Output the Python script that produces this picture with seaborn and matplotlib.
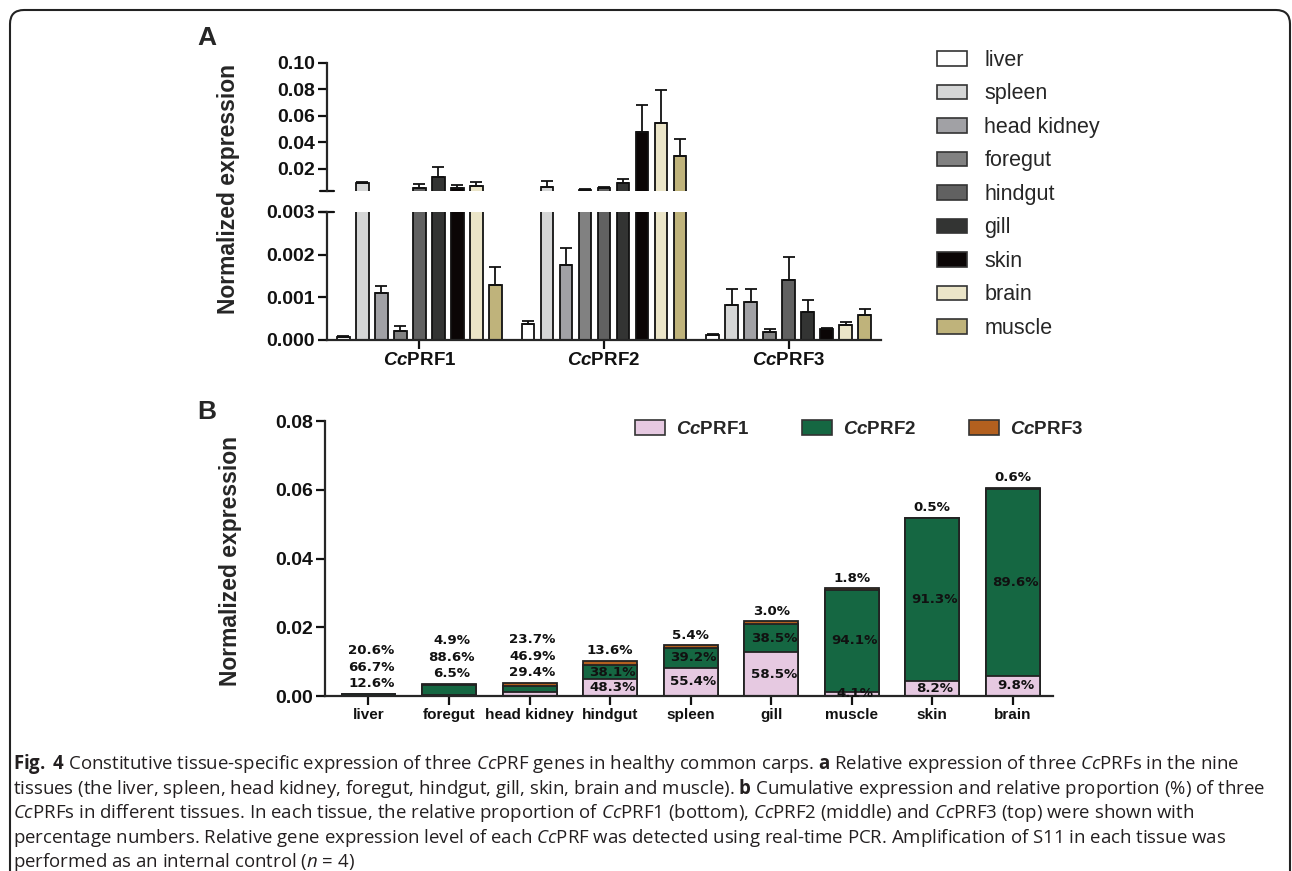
import numpy as np
import pandas as pd
import matplotlib
matplotlib.use("Agg")
import matplotlib.pyplot as plt
import matplotlib.patches as mpatches
from matplotlib.transforms import IdentityTransform
from matplotlib import font_manager as fm
import seaborn as sns

# ---------------- data ----------------
genes = ["CcPRF1", "CcPRF2", "CcPRF3"]
gene_labels = [r"$\mathsf{Cc}$PRF1", r"$\mathsf{Cc}$PRF2", r"$\mathsf{Cc}$PRF3"]
tissues_a = ["liver", "spleen", "head kidney", "foregut", "hindgut", "gill", "skin", "brain", "muscle"]
tissue_colors = ["#ffffff", "#d5d6d6", "#a1a1a5", "#818181", "#616161", "#333433", "#0b0606", "#ebe5c8", "#bfb37b"]

prf1_mean = [0.00007, 0.0090, 0.0011, 0.00022, 0.0049, 0.0135, 0.0053, 0.0066, 0.0013]
prf1_sem = [0.00002, 0.0010, 0.00016, 0.00011, 0.0034, 0.0075, 0.0025, 0.0035, 0.0004]
prf2_mean = [0.00038, 0.0064, 0.00175, 0.0036, 0.0051, 0.0089, 0.0479, 0.0547, 0.0298]
prf2_sem = [0.00006, 0.0038, 0.00041, 0.0008, 0.0007, 0.0030, 0.0203, 0.0247, 0.0124]
prf3_mean = [0.00012, 0.00082, 0.00090, 0.00018, 0.00140, 0.00066, 0.00026, 0.00036, 0.00058]
prf3_sem = [0.00001, 0.00038, 0.00030, 0.00007, 0.00055, 0.00028, 0.00002, 0.00006, 0.00014]

tissues_b = ["liver", "foregut", "head kidney", "hindgut", "spleen", "gill", "muscle", "skin", "brain"]
total_b = [0.0006, 0.0035, 0.0037, 0.0103, 0.0149, 0.0217, 0.0313, 0.0519, 0.0606]
pct1_b = [12.6, 6.5, 29.4, 48.3, 55.4, 58.5, 4.1, 8.2, 9.8]
pct2_b = [66.7, 88.6, 46.9, 38.1, 39.2, 38.5, 94.1, 91.3, 89.6]
pct3_b = [20.6, 4.9, 23.7, 13.6, 5.4, 3.0, 1.8, 0.5, 0.6]
gene_colors_b = ["#e6c9e1", "#156742", "#b3601f"]

caption_lines = [
    r"$\mathbf{Fig.}$ $\mathbf{4}$ Constitutive tissue-specific expression of three $\mathit{Cc}$PRF genes in healthy common carps. $\mathbf{a}$ Relative expression of three $\mathit{Cc}$PRFs in the nine",
    r"tissues (the liver, spleen, head kidney, foregut, hindgut, gill, skin, brain and muscle). $\mathbf{b}$ Cumulative expression and relative proportion (%) of three",
    r"$\mathit{Cc}$PRFs in different tissues. In each tissue, the relative proportion of $\mathit{Cc}$PRF1 (bottom), $\mathit{Cc}$PRF2 (middle) and $\mathit{Cc}$PRF3 (top) were shown with",
    r"percentage numbers. Relative gene expression level of each $\mathit{Cc}$PRF was detected using real-time PCR. Amplification of S11 in each tissue was",
    r"performed as an internal control ($\mathit{n}$ = 4)",
]

# ---------------- style ----------------
sns.set_theme(style="ticks")
names = {f.name for f in fm.fontManager.ttflist}
cap_font = "Liberation Sans Narrow" if "Liberation Sans Narrow" in names else "Open Sans"
plt.rcParams["font.family"] = ["Liberation Sans", "DejaVu Sans"]
plt.rcParams["font.weight"] = "bold"
plt.rcParams["mathtext.fontset"] = "custom"
plt.rcParams["mathtext.sf"] = "Liberation Sans:style=italic:weight=bold"
plt.rcParams["mathtext.it"] = cap_font + ":style=italic:weight=normal"
plt.rcParams["mathtext.bf"] = cap_font + ":style=normal:weight=bold"
plt.rcParams["mathtext.rm"] = cap_font + ":style=normal:weight=normal"
plt.rcParams["axes.linewidth"] = 1.6

W, H = 1292, 871
fig = plt.figure(figsize=(W / 100, H / 100), dpi=100)
fig.patch.set_facecolor("white")


def px(x0, y0, x1, y1):
    return [x0 / W, 1 - y1 / H, (x1 - x0) / W, (y1 - y0) / H]


ax_lo = fig.add_axes(px(327, 212, 881, 340))
ax_hi = fig.add_axes(px(327, 62.7, 881, 191))
ax_b = fig.add_axes(px(325, 421, 1053, 696))
Y_BREAK = 0.003

# ---------------- panel A ----------------
df_a = pd.DataFrame({
    "gene": np.repeat(genes, len(tissues_a)),
    "tissue": tissues_a * len(genes),
    "value": prf1_mean + prf2_mean + prf3_mean,
    "err": prf1_sem + prf2_sem + prf3_sem,
})
sem_lookup = {(g, t): s for g, t, s in zip(df_a["gene"], df_a["tissue"], df_a["err"])}
BW = 0.926
n = len(tissues_a)
for ax, upper in ((ax_lo, False), (ax_hi, True)):
    sns.barplot(data=df_a, x="gene", y="value", hue="tissue", order=genes,
                hue_order=tissues_a, palette=tissue_colors, saturation=1,
                width=BW, gap=0.33, edgecolor="#111111", linewidth=1.3,
                errorbar=None, legend=False, ax=ax)
    for p in list(ax.patches):
        cx = p.get_x() + p.get_width() / 2
        i = int(round(cx))
        j = int(round((cx - i) / (BW / n) + (n - 1) / 2))
        s = sem_lookup[(genes[i], tissues_a[j])]
        h = p.get_height()
        if (h + s > Y_BREAK) != upper:
            continue
        ax.errorbar(cx, h, yerr=[[0], [s]], fmt="none",
                    ecolor="#111111", elinewidth=1.3, capsize=4.5, capthick=1.3, zorder=1)
    ax.set_xlim(-0.5, 2.5)
    ax.set_xlabel("")
    ax.set_ylabel("")
    ax.spines["top"].set_visible(False)
    ax.spines["right"].set_visible(False)
    ax.tick_params(axis="both", length=6.5, width=1.6, labelsize=14, pad=2, colors="#111111")
    ax.set_facecolor("none")

ax_lo.set_ylim(0, Y_BREAK)
ax_lo.set_yticks([0, 0.001, 0.002, 0.003])
ax_lo.set_yticklabels(["0.000", "0.001", "0.002", "0.003"])
ax_lo.set_xticks(range(len(genes)))
ax_lo.set_xticklabels(gene_labels, fontsize=13.5)

ax_hi.set_ylim(Y_BREAK, 0.10)
ax_hi.set_yticks([0.02, 0.04, 0.06, 0.08, 0.10])
ax_hi.set_yticklabels(["0.02", "0.04", "0.06", "0.08", "0.10"])
ax_hi.spines["bottom"].set_visible(False)
ax_hi.tick_params(axis="x", bottom=False, labelbottom=False)

# break marks
for ax, yv in ((ax_hi, 0.0), (ax_lo, 1.0)):
    ax.plot([-0.012, 0.012], [yv, yv], transform=ax.transAxes, color="#111111",
            lw=1.6, clip_on=False)

fig.text(207 / W, 1 - 38 / H, "A", fontsize=19, weight="bold", ha="center", va="center")
fig.text(228 / W, 1 - 189 / H, "Normalized expression", rotation=90, fontsize=16.5,
         weight="bold", ha="center", va="center")

handles_a = [mpatches.Patch(facecolor=c, edgecolor="#333333", linewidth=1.2, label=t)
             for t, c in zip(tissues_a, tissue_colors)]
fig.legend(handles=handles_a, loc="upper left", bbox_to_anchor=(937 / W, 1 - 50 / H),
           frameon=False, prop={"family": "Liberation Sans", "size": 15.5, "weight": "normal"},
           handlelength=1.4, handleheight=0.65, handletextpad=0.8, labelspacing=0.58,
           borderpad=0, borderaxespad=0)

# ---------------- panel B ----------------
t_arr = np.array(total_b)
cum1 = t_arr * np.array(pct1_b) / 100
cum2 = t_arr * (np.array(pct1_b) + np.array(pct2_b)) / 100
df_b = pd.DataFrame({"tissue": tissues_b, "cum1": cum1, "cum2": cum2, "cum3": t_arr})
for col, c in zip(["cum3", "cum2", "cum1"], gene_colors_b[::-1]):
    sns.barplot(data=df_b, x="tissue", y=col, order=tissues_b, color=c, saturation=1,
                width=0.67, edgecolor="#222222", linewidth=1.3, errorbar=None, ax=ax_b)
ax_b.set_xlim(-0.54, 8.5)
ax_b.set_ylim(0, 0.08)
ax_b.set_yticks([0, 0.02, 0.04, 0.06, 0.08])
ax_b.set_yticklabels(["0.00", "0.02", "0.04", "0.06", "0.08"])
ax_b.set_xlabel("")
ax_b.set_ylabel("")
ax_b.spines["top"].set_visible(False)
ax_b.spines["right"].set_visible(False)
ax_b.tick_params(axis="both", length=6.5, width=1.6, pad=2, colors="#111111")
ax_b.tick_params(axis="y", labelsize=14)
ax_b.tick_params(axis="x", labelsize=11)
ax_b.set_facecolor("none")

lab_kw = dict(textcoords="offset points", ha="center", va="center", fontsize=9.6,
              weight="bold", color="#111111", family="DejaVu Sans")
for k in range(len(tissues_b)):
    tot = total_b[k]
    if tot < 0.005:
        for off, pc in zip((7.5, 19, 31.5), (pct1_b[k], pct2_b[k], pct3_b[k])):
            ax_b.annotate(f"{pc:.1f}%", (k, tot), xytext=(2, off), **lab_kw)
    else:
        ax_b.annotate(f"{pct3_b[k]:.1f}%", (k, tot), xytext=(0, 7), **lab_kw)
        ax_b.annotate(f"{pct2_b[k]:.1f}%", (k, (cum1[k] + cum2[k]) / 2), xytext=(2, 0), **lab_kw)
        ax_b.annotate(f"{pct1_b[k]:.1f}%", (k, cum1[k] / 2), xytext=(2, 0), **lab_kw)

fig.text(207 / W, 1 - 412 / H, "B", fontsize=19, weight="bold", ha="center", va="center")
fig.text(231 / W, 1 - 561 / H, "Normalized expression", rotation=90, fontsize=16.5,
         weight="bold", ha="center", va="center")

handles_b = [mpatches.Patch(facecolor=c, edgecolor="#333333", linewidth=1.2, label=l)
             for l, c in zip(gene_labels, gene_colors_b)]
fig.legend(handles=handles_b, loc="upper left", bbox_to_anchor=(635 / W, 1 - 420 / H),
           ncol=3, frameon=False, prop={"family": "Liberation Sans", "size": 13.5, "weight": "bold"},
           handlelength=1.6, handleheight=0.85, handletextpad=0.6, columnspacing=2.8,
           borderpad=0, borderaxespad=0)

# ---------------- caption ----------------
renderer = fig.canvas.get_renderer()
widths = []
for li in (0, 1, 3):
    probe = fig.text(0, 0, caption_lines[li], fontsize=10, family=cap_font, weight="normal")
    widths.append(probe.get_window_extent(renderer).width)
    probe.remove()
cap_size = 10 * 1250 / max(widths)
baselines = [769, 794, 818, 843, 867]
for line, yb in zip(caption_lines, baselines):
    fig.text(13 / W, 1 - yb / H, line, fontsize=cap_size, family=cap_font, weight="normal",
             ha="left", va="baseline", color="#231f20")

# ---------------- frame ----------------
frame = mpatches.FancyBboxPatch((10, -60), 1280, H - 10 + 60,
                                boxstyle="round,pad=0,rounding_size=14",
                                transform=IdentityTransform(), fill=False,
                                lw=1.5, ec="#222222")
fig.add_artist(frame)

fig.savefig("out.png", dpi=100)
